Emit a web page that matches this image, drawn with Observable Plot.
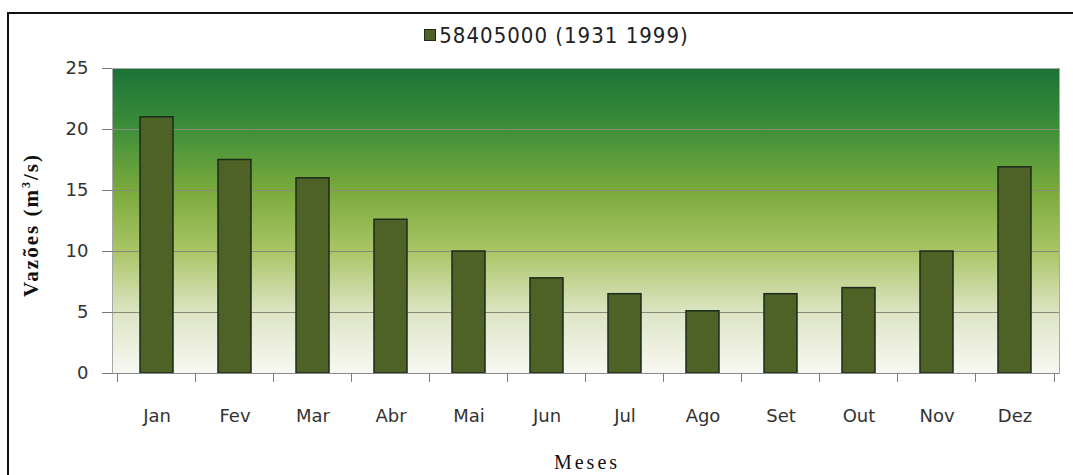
<!DOCTYPE html>
<html>
<head>
<meta charset="utf-8">
<script src="https://cdn.jsdelivr.net/npm/d3@7"></script>
<script src="https://cdn.jsdelivr.net/npm/@observablehq/plot@0.6"></script>
<style>
  html, body { margin: 0; padding: 0; background: #ffffff; }
  #wrap { position: relative; width: 1073px; height: 475px; overflow: hidden; }
  #border { position: absolute; left: 7px; top: 12px; width: 1080px; height: 480px; border-left: 2px solid #111; border-top: 2px solid #111; box-sizing: border-box; }
  #legend { position: absolute; left: 20px; top: 23px; width: 1073px; text-align: center; font-family: "Liberation Sans Narrow", "DejaVu Sans Condensed", sans-serif; font-size: 22px; letter-spacing: 1px; color: #222; }
  #legend .sw { display: inline-block; width: 10px; height: 10px; background: #4e6226; border: 1px solid #1c2b1c; margin-right: 3px; vertical-align: 2px; }
  #chart { position: absolute; left: 0; top: 50px; }
  #ytitle { position: absolute; left: 31px; top: 225px; transform: translate(-50%, -50%) rotate(-90deg); font-family: "Liberation Serif", serif; font-weight: bold; font-size: 21px; letter-spacing: 2px; white-space: nowrap; color: #111; }
  #xtitle { position: absolute; left: 0; width: 1174px; top: 452px; line-height: 21px; text-align: center; font-family: "Liberation Serif", serif; font-size: 20px; letter-spacing: 3px; color: #111; }
</style>
</head>
<body>
<div id="wrap">
  <div id="border"></div>
  <div id="legend"><span class="sw"></span>58405000 (1931 1999)</div>
  <div id="chart"></div>
  <div id="ytitle">Vazões (m<sup style="font-size:12px">3</sup>/s)</div>
  <div id="xtitle">Meses</div>
</div>
<script>
const months = ["Jan", "Fev", "Mar", "Abr", "Mai", "Jun", "Jul", "Ago", "Set", "Out", "Nov", "Dez"];
const flows = [21, 17.5, 16, 12.6, 10, 7.8, 6.5, 5.1, 6.5, 7, 10, 16.9];
const yTicks = [0, 5, 10, 15, 20, 25];
const gridTicks = [5, 10, 15, 20];

const data = months.map((m, i) => ({month: m, value: flows[i]}));

const width = 1073, height = 425;
const marginLeft = 112, marginRight = 14;
const bw = (width - marginLeft - marginRight) / months.length;

const plot = Plot.plot({
  width, height,
  marginTop: 18, marginBottom: 102, marginLeft, marginRight,
  style: {fontFamily: "'DejaVu Sans', sans-serif", fontSize: "18px", color: "#333", background: "transparent"},
  x: {domain: months, paddingInner: 0.58, paddingOuter: 0.29, label: null},
  y: {domain: [0, 25], label: null},
  marks: [
    Plot.frame({fill: "url(#bgGrad)", stroke: "#a8a8a8"}),
    Plot.ruleY(gridTicks, {stroke: "#8a8a7c", strokeWidth: 1.2}),
    Plot.barY(data, {x: "month", y: "value", fill: "#4e6226", stroke: "#1c2b1c", strokeWidth: 1.5}),
    Plot.ruleY([0], {stroke: "#8a8a8a", strokeWidth: 1.2}),
    Plot.axisY(yTicks, {tickSize: 10, tickPadding: 14, stroke: "#777", fontSize: 18, fill: "#333", letterSpacing: 1}),
    Plot.axisX({tickSize: 0, tickPadding: 36, fontSize: 18, fill: "#333", letterSpacing: 1.5}),
    Plot.axisX(months, {text: null, tickSize: 9, dx: -bw / 2, stroke: "#777"}),
    Plot.axisX(["Dez"], {text: null, tickSize: 9, dx: bw / 2, stroke: "#777"})
  ]
});

// gradient definition for the plot background
const svgNS = "http://www.w3.org/2000/svg";
const defs = document.createElementNS(svgNS, "defs");
defs.innerHTML = `<linearGradient id="bgGrad" x1="0" y1="0" x2="0" y2="1">
  <stop offset="0%" stop-color="#1b7236"/>
  <stop offset="18%" stop-color="#3a8c3a"/>
  <stop offset="40%" stop-color="#7aaa3c"/>
  <stop offset="60%" stop-color="#aac566"/>
  <stop offset="80%" stop-color="#dde5c4"/>
  <stop offset="100%" stop-color="#f8f8f3"/>
</linearGradient>`;
plot.insertBefore(defs, plot.firstChild);

document.getElementById("chart").appendChild(plot);
</script>
</body>
</html>
